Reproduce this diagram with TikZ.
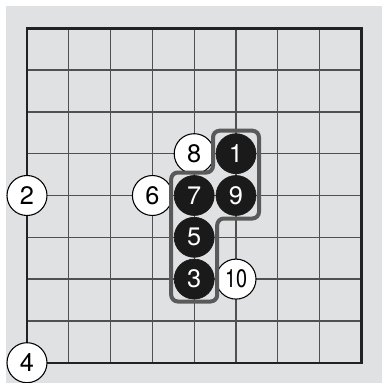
\documentclass[tikz,border=0pt]{standalone}
\usepackage{fontspec}
\setmainfont{TeX Gyre Heros}
\definecolor{boardbg}{RGB}{224,225,227}
\definecolor{gridgray}{RGB}{80,80,80}
\definecolor{framegray}{RGB}{90,90,90}
\tikzset{
blackstone/.style={circle,fill={rgb, 255:red, 26; green, 26; blue, 26 },draw={rgb, 255:red, 26; green, 26; blue, 26 },line width=0.5pt,minimum size=30pt,inner sep=0pt,text=white,font=\fontsize{19}{19}\selectfont},
whitestone/.style={circle,fill=white,draw=black,line width=0.8pt,minimum size=30pt,inner sep=0pt,text=black,font=\fontsize{19}{19}\selectfont},
gridline/.style={draw=gridgray,line width=1pt},
}
\tikzset{every picture/.style={line width=0.75pt}}
\begin{document}
\begin{tikzpicture}[x=0.75pt,y=0.75pt,yscale=-1,xscale=1]
\useasboundingbox (0,0) rectangle (382,383);
%Background
\fill [boardbg] (6,6) rectangle (382,383);

%Grid: vertical lines
\draw [gridline] (68.8,28.3) -- (68.8,362.7);
\draw [gridline] (110.6,28.3) -- (110.6,362.7);
\draw [gridline] (152.4,28.3) -- (152.4,362.7);
\draw [gridline] (194.2,28.3) -- (194.2,362.7);
\draw [gridline] (236,28.3) -- (236,362.7);
\draw [gridline] (277.8,28.3) -- (277.8,362.7);
\draw [gridline] (319.6,28.3) -- (319.6,362.7);
%Grid: horizontal lines
\draw [gridline] (27,70.1) -- (361.4,70.1);
\draw [gridline] (27,111.9) -- (361.4,111.9);
\draw [gridline] (27,153.7) -- (361.4,153.7);
\draw [gridline] (27,195.5) -- (361.4,195.5);
\draw [gridline] (27,237.3) -- (361.4,237.3);
\draw [gridline] (27,279.1) -- (361.4,279.1);
\draw [gridline] (27,320.9) -- (361.4,320.9);
%Board edge
\draw [draw={rgb, 255:red, 34; green, 34; blue, 34 }, line width=1.8pt] (27,28.3) rectangle (361.4,362.7);

%Black stones
\node [blackstone] (b1) at (236,153.7) {1};
\node [blackstone] (b3) at (194.2,279.1) {3};
\node [blackstone] (b5) at (194.2,237.3) {5};
\node [blackstone] (b7) at (194.2,195.5) {7};
\node [blackstone] (b9) at (236,195.5) {9};
%White stones
\node [whitestone] (w2) at (27,195.5) {2};
\node [whitestone] (w4) at (27,362.7) {4};
\node [whitestone] (w6) at (152.4,195.5) {6};
\node [whitestone] (w8) at (194.2,153.7) {8};
\node [whitestone] (w10) at (236,279.1) {\scalebox{0.78}[1]{10}};

%Outline of the black group
\draw [draw=framegray, line width=3pt, rounded corners=5pt] (213,130.7) -- (259,130.7) -- (259,218.5) -- (217.2,218.5) -- (217.2,301.5) -- (171.2,301.5) -- (171.2,172.5) -- (213,172.5) -- cycle ;

\end{tikzpicture}
\end{document}
